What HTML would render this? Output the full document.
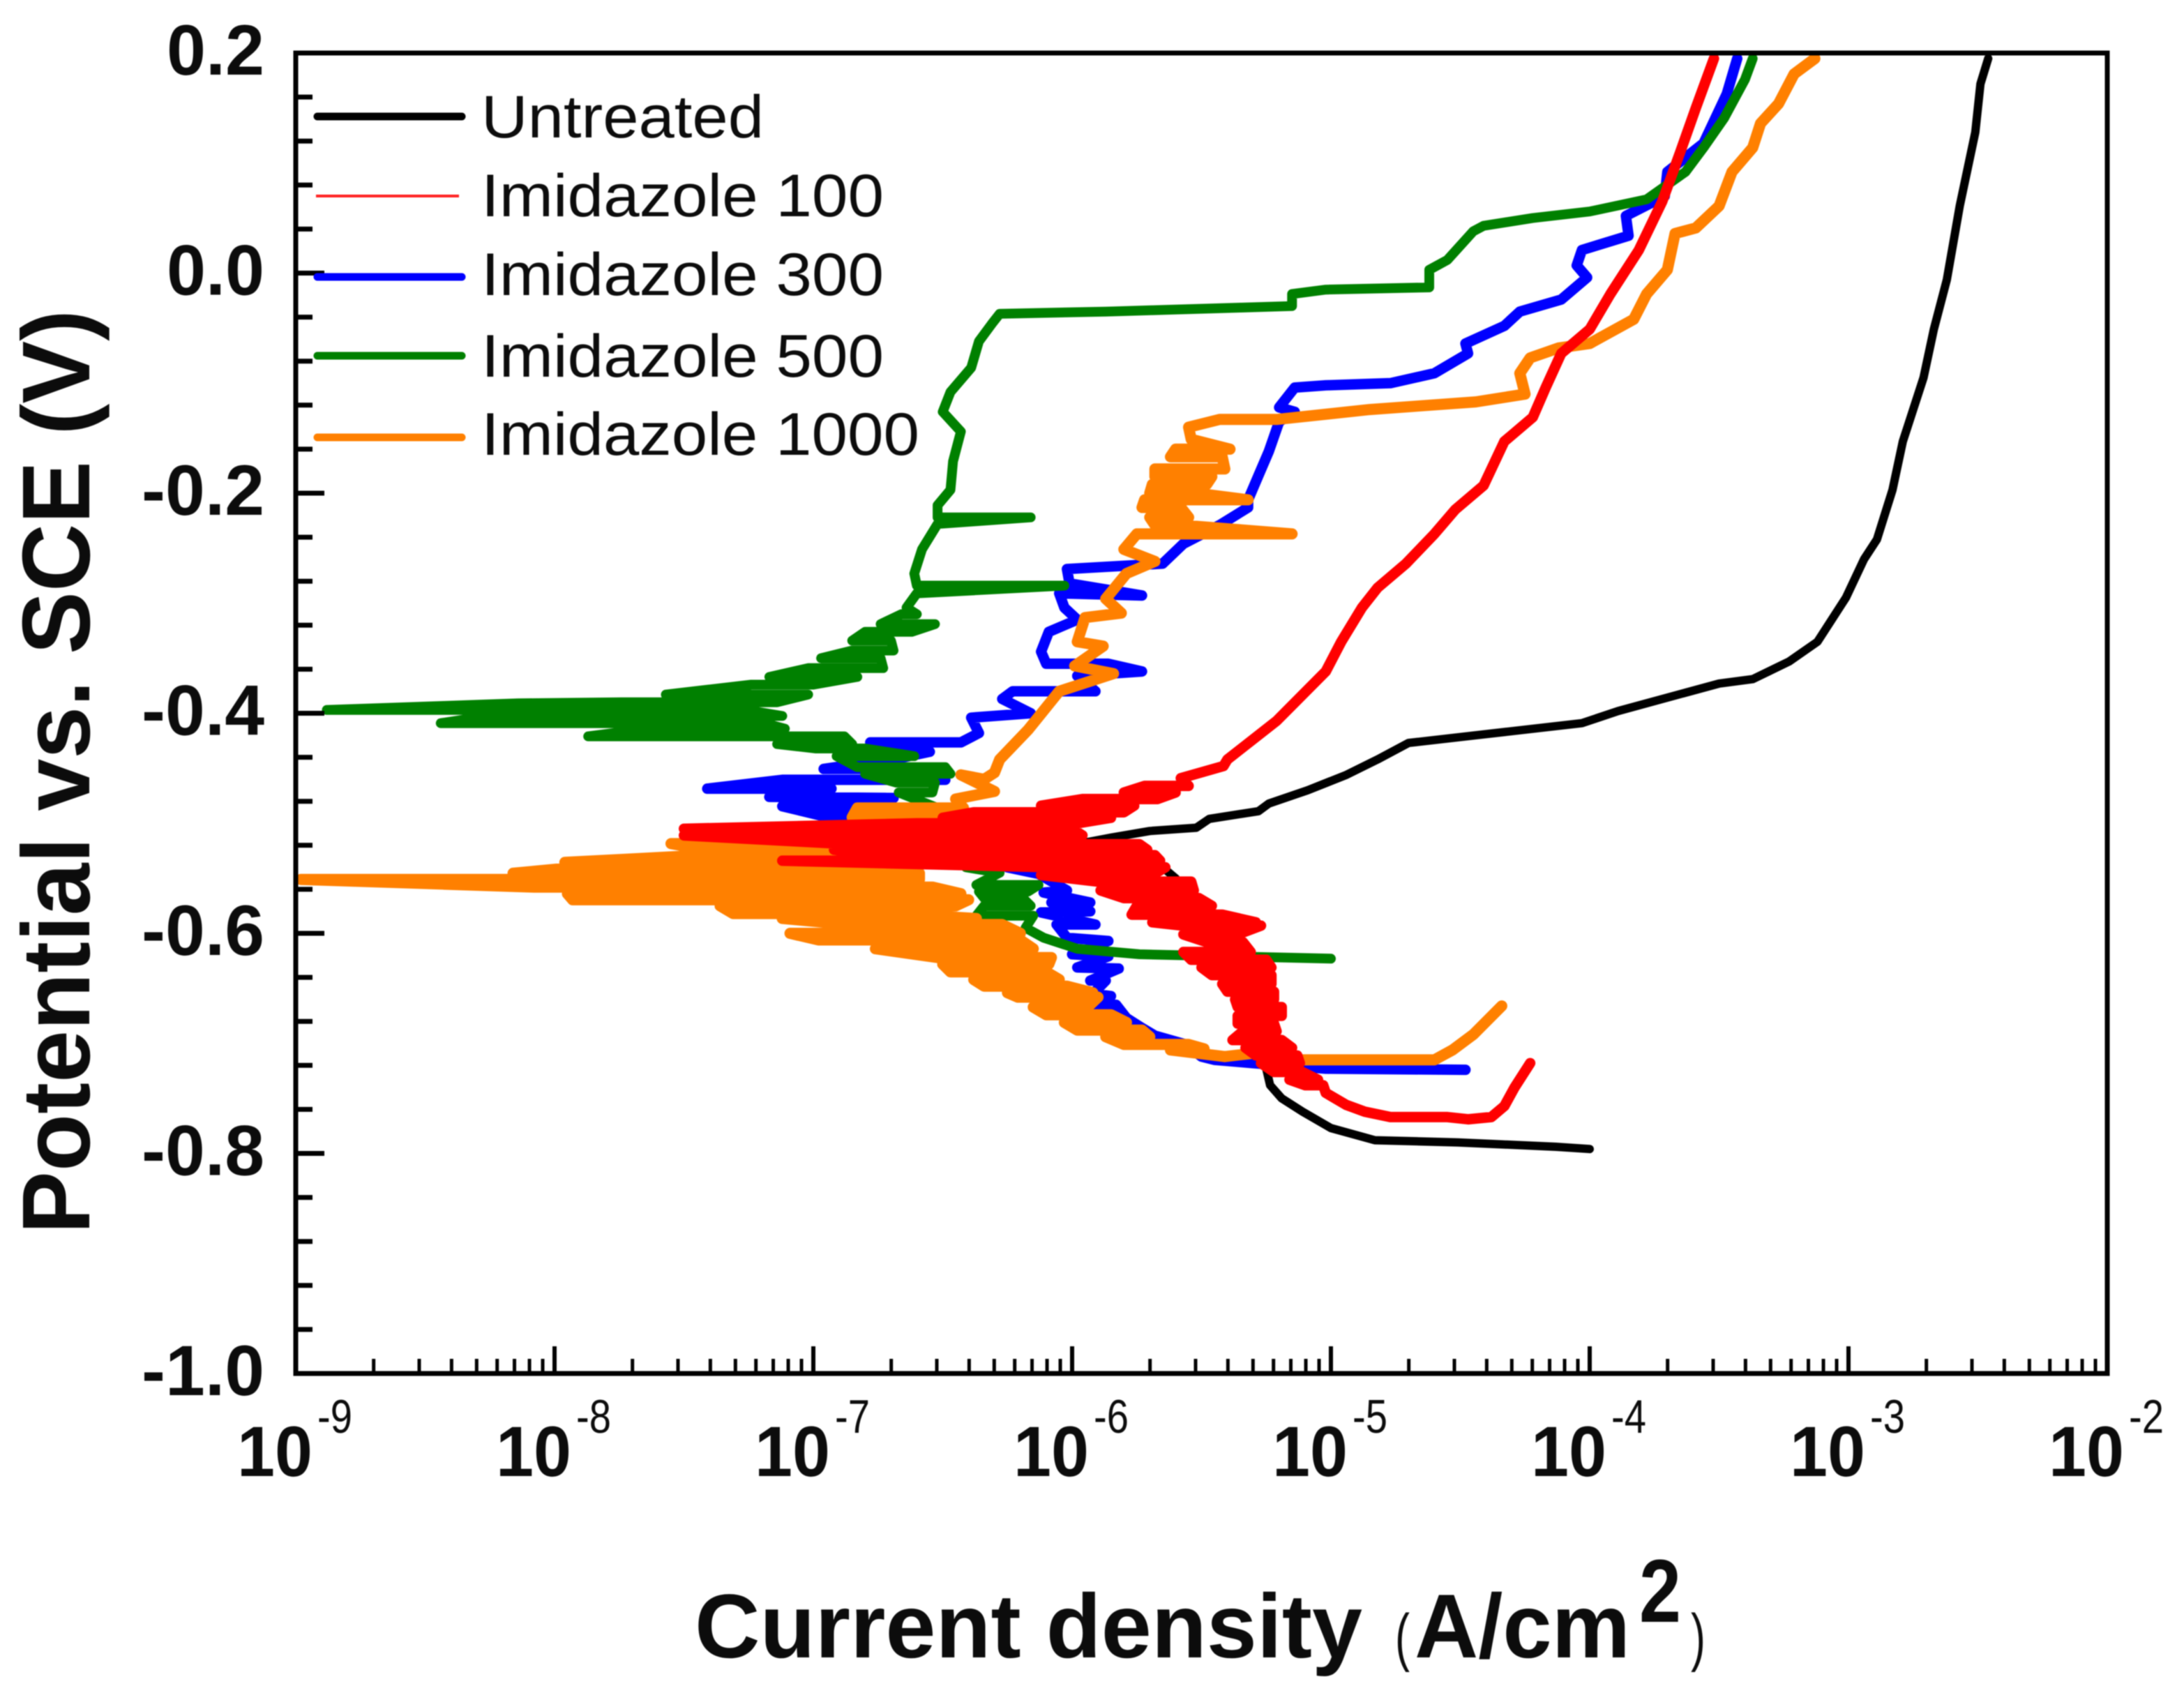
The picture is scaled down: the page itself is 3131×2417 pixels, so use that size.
<!DOCTYPE html>
<html lang="en">
<head>
<meta charset="utf-8">
<title>Potentiodynamic polarization curves</title>
<style>
html,body{margin:0;padding:0;background:#fff;}
svg{display:block;filter:blur(0.9px);}
text{font-family:"Liberation Sans",Arial,sans-serif;fill:#0c0c0c;}
.b{font-weight:bold;}
</style>
</head>
<body>
<svg id="chart" xmlns="http://www.w3.org/2000/svg" width="3131" height="2417" viewBox="0 0 3131 2417">
  <rect x="0" y="0" width="3131" height="2417" fill="#fff"/>
  <g id="series" fill="none" stroke-linejoin="round" stroke-linecap="round">
    <polyline id="s-untreated" stroke="#000000" stroke-width="12"/>
    <polyline id="s-300" stroke="#0000ff" stroke-width="15"/>
    <polyline id="s-500" stroke="#008000" stroke-width="14"/>
    <polyline id="s-1000" stroke="#ff8000" stroke-width="16"/>
    <polyline id="s-100" stroke="#ff0000" stroke-width="15"/>
  </g>
  <g id="x-ticks" stroke="#000"></g>
  <g id="y-ticks" stroke="#000"></g>
  <rect x="424" y="76" width="2597" height="1893" fill="none" stroke="#000" stroke-width="7"/>
  <g id="x-labels"></g>
  <g id="y-labels"></g>

  <text class="b" font-size="138" textLength="1325" lengthAdjust="spacingAndGlyphs" transform="translate(128,1769) rotate(-90)">Potential vs. SCE (V)</text>

  <g>
    <text class="b" x="996" y="2376" font-size="130" textLength="957" lengthAdjust="spacingAndGlyphs">Current density</text>
    <text x="2000" y="2378" font-size="92" textLength="21" lengthAdjust="spacingAndGlyphs">(</text>
    <text class="b" x="2028" y="2376" font-size="130" textLength="309" lengthAdjust="spacingAndGlyphs">A/cm</text>
    <text class="b" x="2350" y="2325" font-size="128" textLength="60" lengthAdjust="spacingAndGlyphs">2</text>
    <text x="2424" y="2378" font-size="92" textLength="21" lengthAdjust="spacingAndGlyphs">)</text>
  </g>

  <g fill="none" stroke-linecap="round">
    <line x1="455" y1="167" x2="662" y2="167" stroke="#000000" stroke-width="11"/>
    <line x1="453" y1="281" x2="658" y2="281" stroke="#ff2020" stroke-width="4" stroke-linecap="butt"/>
    <line x1="455" y1="397" x2="662" y2="397" stroke="#0000ff" stroke-width="11"/>
    <line x1="455" y1="510" x2="662" y2="510" stroke="#008000" stroke-width="11"/>
    <line x1="455" y1="627" x2="662" y2="627" stroke="#ff8000" stroke-width="11"/>
    <text x="690" y="197" font-size="86" textLength="405" lengthAdjust="spacingAndGlyphs" stroke="none">Untreated</text>
    <text x="690" y="310" font-size="86" textLength="577" lengthAdjust="spacingAndGlyphs" stroke="none">Imidazole 100</text>
    <text x="690" y="423" font-size="86" textLength="577" lengthAdjust="spacingAndGlyphs" stroke="none">Imidazole 300</text>
    <text x="690" y="540" font-size="86" textLength="577" lengthAdjust="spacingAndGlyphs" stroke="none">Imidazole 500</text>
    <text x="690" y="652" font-size="86" textLength="628" lengthAdjust="spacingAndGlyphs" stroke="none">Imidazole 1000</text>
  </g>
</svg>
<script>
// Values are [log10(current density), potential in V vs. SCE]
const xDecades = [-9, -8, -7, -6, -5, -4, -3, -2];
const xExponentLabels = ['-9', '-8', '-7', '-6', '-5', '-4', '-3', '-2'];
const yMajorTicks = [0.2, 0, -0.2, -0.4, -0.6, -0.8, -1.0];
const yTickLabels = ['0.2', '0.0', '-0.2', '-0.4', '-0.6', '-0.8', '-1.0'];
const yMinorTicks = [0.16, 0.12, 0.08, 0.04, -0.04, -0.08, -0.12, -0.16, -0.24, -0.28, -0.32, -0.36, -0.44, -0.48, -0.52, -0.56, -0.64, -0.68, -0.72, -0.76, -0.84, -0.88, -0.92, -0.96];
const xMinorMultipliers = [2, 3, 4, 5, 6, 7, 8, 9];

const untreated = [[-2.46,.195],[-2.49,.172],[-2.51,.128],[-2.57,.061],[-2.62,-.006],[-2.67,-.051],[-2.71,-.095],[-2.79,-.153],[-2.83,-.197],[-2.89,-.242],[-2.94,-.260],[-3.01,-.295],[-3.12,-.335],[-3.23,-.353],[-3.37,-.369],[-3.50,-.373],[-3.89,-.398],[-4.03,-.409],[-4.44,-.420],[-4.70,-.427],[-4.82,-.442],[-4.94,-.456],[-5.09,-.470],[-5.24,-.482],[-5.28,-.489],[-5.47,-.496],[-5.52,-.504],[-5.70,-.507],[-5.85,-.513],[-5.94,-.517],[-5.70,-.53],[-5.60,-.55],[-5.55,-.565],[-5.46,-.585],[-5.33,-.670],[-5.35,-.694],[-5.25,-.723],[-5.235,-.738],[-5.19,-.750],[-5.11,-.762],[-5.0,-.777],[-4.83,-.788],[-4.51,-.790],[-4.13,-.794],[-4.0,-.796]];

const imidazole300 = [[-3.43,.195],[-3.47,.163],[-3.56,.118],[-3.70,.092],[-3.71,.07],[-3.86,.052],[-3.85,.034],[-4.03,.021],[-4.05,.007],[-4.01,-.004],[-4.11,-.024],[-4.27,-.035],[-4.33,-.048],[-4.48,-.064],[-4.47,-.073],[-4.60,-.091],[-4.77,-.1],[-5.02,-.102],[-5.14,-.104],[-5.2,-.122],[-5.14,-.126],[-5.2,-.135],[-5.24,-.162],[-5.28,-.184],[-5.32,-.206],[-5.32,-.213],[-5.43,-.229],[-5.57,-.246],[-5.65,-.264],[-6.02,-.269],[-6.01,-.282],[-5.73,-.293],[-6.05,-.291],[-6.03,-.304],[-5.98,-.315],[-6.09,-.326],[-6.12,-.344],[-6.10,-.355],[-5.86,-.355],[-5.73,-.362],[-5.98,-.366],[-5.91,-.380],[-6.23,-.380],[-6.27,-.387],[-6.16,-.400],[-6.39,-.404],[-6.36,-.418],[-6.43,-.4265],[-6.78,-.4265],[-6.55,-.435],[-6.65,-.44],[-6.96,-.4506],[-6.75,-.4506],[-6.49,-.4605],[-7.12,-.4605],[-7.41,-.4685],[-6.93,-.4685],[-7.17,-.476],[-6.69,-.477],[-6.85,-.4845],[-7.12,-.4845],[-6.97,-.493],[-6.83,-.493],[-6.5,-.51],[-6.25,-.54],[-6.13,-.546],[-6.02,-.561],[-6.11,-.563],[-5.93,-.572],[-6.08,-.572],[-5.93,-.580],[-6.12,-.581],[-5.91,-.592],[-6.06,-.592],[-6.02,-.604],[-5.86,-.607],[-6.0,-.619],[-5.86,-.621],[-5.98,-.631],[-5.82,-.632],[-5.93,-.643],[-5.87,-.643],[-5.92,-.655],[-5.85,-.657],[-5.94,-.665],[-5.83,-.665],[-5.79,-.677],[-5.73,-.686],[-5.68,-.693],[-5.56,-.701],[-5.50,-.712],[-5.45,-.715],[-5.30,-.718],[-5.02,-.723],[-4.48,-.724]];

const imidazole500 = [[-3.37,.195],[-3.40,.176],[-3.48,.141],[-3.56,.114],[-3.63,.092],[-3.78,.067],[-4.0,.056],[-4.22,.05],[-4.41,.043],[-4.45,.038],[-4.55,.012],[-4.62,.003],[-4.62,-.013],[-5.02,-.015],[-5.15,-.019],[-5.15,-.03],[-5.87,-.035],[-6.28,-.037],[-6.31,-.046],[-6.36,-.062],[-6.39,-.086],[-6.47,-.108],[-6.50,-.126],[-6.43,-.144],[-6.46,-.171],[-6.47,-.197],[-6.52,-.211],[-6.52,-.222],[-6.16,-.222],[-6.52,-.228],[-6.58,-.251],[-6.61,-.273],[-6.60,-.284],[-6.03,-.284],[-6.60,-.291],[-6.64,-.304],[-6.60,-.310],[-6.66,-.310],[-6.74,-.319],[-6.53,-.319],[-6.62,-.326],[-6.80,-.326],[-6.85,-.334],[-6.70,-.334],[-6.69,-.343],[-6.85,-.343],[-6.97,-.350],[-6.74,-.350],[-6.73,-.359],[-7.02,-.359],[-7.17,-.367],[-6.83,-.367],[-7.0,-.374],[-7.24,-.374],[-7.57,-.383],[-7.02,-.383],[-7.14,-.390],[-7.74,-.390],[-8.14,-.391],[-8.88,-.397],[-7.26,-.397],[-7.12,-.4025],[-8.26,-.4025],[-8.44,-.409],[-7.19,-.409],[-7.11,-.414],[-7.64,-.414],[-7.87,-.421],[-6.88,-.421],[-6.85,-.428],[-7.14,-.428],[-6.99,-.432],[-6.80,-.432],[-6.61,-.439],[-6.91,-.439],[-6.83,-.449],[-6.49,-.449],[-6.47,-.455],[-6.80,-.455],[-6.68,-.463],[-6.53,-.463],[-6.54,-.472],[-6.67,-.472],[-6.43,-.4945],[-6.41,-.540],[-6.28,-.545],[-6.37,-.556],[-6.13,-.556],[-6.17,-.562],[-6.36,-.562],[-6.34,-.568],[-6.19,-.568],[-6.16,-.575],[-6.34,-.575],[-6.37,-.584],[-6.15,-.584],[-6.18,-.595],[-6.11,-.604],[-5.98,-.614],[-5.74,-.619],[-5.0,-.623]];

const imidazole1000 = [[-3.13,.195],[-3.21,.181],[-3.27,.154],[-3.34,.136],[-3.37,.114],[-3.45,.092],[-3.50,.061],[-3.59,.041],[-3.67,.036],[-3.70,.003],[-3.78,-.019],[-3.83,-.042],[-4.0,-.064],[-4.12,-.068],[-4.23,-.077],[-4.27,-.091],[-4.25,-.11],[-4.44,-.117],[-4.85,-.124],[-5.21,-.133],[-5.43,-.133],[-5.55,-.140],[-5.54,-.151],[-5.39,-.16],[-5.60,-.16],[-5.62,-.167],[-5.42,-.167],[-5.41,-.178],[-5.68,-.178],[-5.68,-.185],[-5.46,-.185],[-5.48,-.192],[-5.69,-.192],[-5.70,-.200],[-5.52,-.200],[-5.32,-.206],[-5.72,-.206],[-5.73,-.213],[-5.58,-.213],[-5.55,-.222],[-5.70,-.222],[-5.68,-.229],[-5.58,-.229],[-5.15,-.237],[-5.75,-.237],[-5.80,-.251],[-5.68,-.262],[-5.79,-.273],[-5.87,-.296],[-5.81,-.309],[-5.95,-.313],[-5.98,-.335],[-5.88,-.339],[-5.99,-.357],[-5.84,-.364],[-6.05,-.380],[-6.17,-.415],[-6.28,-.442],[-6.30,-.454],[-6.34,-.460],[-6.43,-.456],[-6.30,-.471],[-6.45,-.478],[-6.42,-.486],[-6.83,-.486],[-6.85,-.4945],[-6.43,-.4945],[-6.86,-.5185],[-7.55,-.5185],[-7.38,-.5256],[-6.92,-.5256],[-7.38,-.530],[-7.51,-.530],[-7.96,-.5355],[-7.12,-.5355],[-6.78,-.541],[-7.96,-.541],[-8.16,-.5454],[-6.59,-.5454],[-6.59,-.551],[-8.98,-.551],[-8.08,-.558],[-6.54,-.558],[-6.43,-.564],[-7.95,-.564],[-7.93,-.5695],[-6.40,-.5695],[-6.45,-.575],[-7.36,-.575],[-7.31,-.582],[-6.69,-.582],[-6.37,-.5865],[-7.12,-.5865],[-6.86,-.592],[-6.27,-.592],[-6.20,-.600],[-7.09,-.600],[-6.98,-.606],[-6.20,-.606],[-6.15,-.614],[-6.76,-.614],[-6.52,-.622],[-6.08,-.622],[-6.09,-.628],[-6.50,-.628],[-6.47,-.635],[-6.10,-.635],[-6.05,-.642],[-6.38,-.642],[-6.34,-.648],[-6.02,-.648],[-5.92,-.654],[-6.25,-.654],[-6.21,-.658],[-5.90,-.658],[-5.94,-.667],[-6.15,-.667],[-6.10,-.674],[-5.85,-.674],[-5.79,-.681],[-6.03,-.681],[-5.98,-.688],[-5.73,-.688],[-5.70,-.694],[-5.87,-.694],[-5.80,-.701],[-5.55,-.701],[-5.49,-.705],[-5.62,-.706],[-5.41,-.712],[-5.30,-.709],[-5.13,-.715],[-4.60,-.715],[-4.53,-.706],[-4.45,-.692],[-4.34,-.666]];

const imidazole100 = [[-3.52,.195],[-3.59,.150],[-3.65,.110],[-3.72,.065],[-3.81,.021],[-3.92,-.019],[-4.0,-.051],[-4.11,-.073],[-4.17,-.104],[-4.22,-.131],[-4.33,-.153],[-4.41,-.193],[-4.52,-.215],[-4.60,-.237],[-4.71,-.264],[-4.82,-.286],[-4.88,-.304],[-4.96,-.335],[-5.02,-.362],[-5.21,-.407],[-5.40,-.442],[-5.415,-.448],[-5.58,-.459],[-5.55,-.466],[-5.72,-.466],[-5.80,-.472],[-5.60,-.472],[-5.67,-.478],[-5.96,-.478],[-6.12,-.484],[-5.76,-.484],[-5.80,-.490],[-6.38,-.490],[-6.50,-.495],[-5.85,-.495],[-5.98,-.500],[-6.6,-.500],[-7.50,-.505],[-6.0,-.505],[-5.96,-.511],[-7.50,-.511],[-6.86,-.519],[-5.74,-.519],[-5.71,-.524],[-6.92,-.524],[-6.78,-.529],[-5.68,-.529],[-5.66,-.534],[-7.12,-.534],[-6.08,-.540],[-5.64,-.540],[-5.69,-.547],[-6.12,-.547],[-5.90,-.553],[-5.54,-.553],[-5.53,-.561],[-5.89,-.561],[-5.80,-.568],[-5.51,-.568],[-5.46,-.575],[-5.75,-.575],[-5.77,-.583],[-5.42,-.583],[-5.29,-.590],[-5.69,-.590],[-5.57,-.593],[-5.27,-.593],[-5.36,-.601],[-5.57,-.601],[-5.48,-.608],[-5.34,-.608],[-5.31,-.617],[-5.57,-.617],[-5.54,-.624],[-5.25,-.624],[-5.23,-.631],[-5.50,-.631],[-5.46,-.638],[-5.23,-.638],[-5.23,-.646],[-5.42,-.646],[-5.40,-.653],[-5.22,-.653],[-5.22,-.660],[-5.37,-.660],[-5.36,-.667],[-5.19,-.667],[-5.19,-.675],[-5.36,-.675],[-5.36,-.682],[-5.22,-.682],[-5.21,-.689],[-5.34,-.689],[-5.38,-.697],[-5.19,-.697],[-5.15,-.704],[-5.33,-.704],[-5.29,-.711],[-5.13,-.711],[-5.12,-.718],[-5.27,-.718],[-5.22,-.726],[-5.11,-.726],[-5.05,-.733],[-5.16,-.733],[-5.10,-.738],[-5.03,-.738],[-5.02,-.745],[-4.94,-.756],[-4.87,-.762],[-4.77,-.767],[-4.55,-.767],[-4.47,-.769],[-4.38,-.767],[-4.33,-.757],[-4.29,-.740],[-4.23,-.718]];

const NS = 'http://www.w3.org/2000/svg';
const plotLeft = 424, plotRight = 3021, plotTop = 76, plotBottom = 1969;
function xScale(logI) { return plotLeft + (logI + 9) / 7 * (plotRight - plotLeft); }
function yScale(e) { return plotTop + (0.2 - e) / 1.2 * (plotBottom - plotTop); }
function setPoints(id, data) {
  document.getElementById(id).setAttribute('points', data.map(function (p) {
    return xScale(p[0]).toFixed(1) + ',' + yScale(p[1]).toFixed(1);
  }).join(' '));
}
setPoints('s-untreated', untreated);
setPoints('s-300', imidazole300);
setPoints('s-500', imidazole500);
setPoints('s-1000', imidazole1000);
setPoints('s-100', imidazole100);

const xTicks = document.getElementById('x-ticks');
const yTicks = document.getElementById('y-ticks');
const xLabels = document.getElementById('x-labels');
const yLabels = document.getElementById('y-labels');

function tickLine(parent, x1, y1, x2, y2, w) {
  const l = document.createElementNS(NS, 'line');
  l.setAttribute('x1', x1);
  l.setAttribute('y1', y1);
  l.setAttribute('x2', x2);
  l.setAttribute('y2', y2);
  l.setAttribute('stroke-width', w);
  parent.appendChild(l);
  return l;
}

xDecades.forEach(function (d, i) {
  const px = xScale(d);
  const major = tickLine(xTicks, px, plotBottom, px, plotBottom - 39, 6);
  
  
  if (i < xDecades.length - 1) {
    xMinorMultipliers.forEach(function (m) {
      const mx = xScale(d + Math.log10(m));
      const minor = tickLine(xTicks, mx, plotBottom, mx, plotBottom - 21, 5);
      
      
    });
  }
  const base = document.createElementNS(NS, 'text');
  
  
  base.setAttribute('class', 'b');
  base.setAttribute('x', px - 84);
  base.setAttribute('y', 2116);
  base.setAttribute('font-size', '102');
  base.setAttribute('textLength', '108');
  base.setAttribute('lengthAdjust', 'spacingAndGlyphs');
  base.textContent = '10';
  xLabels.appendChild(base);
  const exp = document.createElementNS(NS, 'text');
  
  
  exp.setAttribute('x', px + 31);
  exp.setAttribute('y', 2054);
  exp.setAttribute('font-size', '68');
  exp.setAttribute('textLength', '50');
  exp.setAttribute('lengthAdjust', 'spacingAndGlyphs');
  exp.textContent = xExponentLabels[i];
  xLabels.appendChild(exp);
});

yMajorTicks.forEach(function (v, i) {
  const py = yScale(v);
  const major = tickLine(yTicks, plotLeft, py, plotLeft + 41, py, 7);
  
  
  const t = document.createElementNS(NS, 'text');
  
  
  t.setAttribute('class', 'b');
  t.setAttribute('x', 379);
  t.setAttribute('y', py + 31);
  t.setAttribute('font-size', '102');
  t.setAttribute('text-anchor', 'end');
  t.setAttribute('textLength', yTickLabels[i].length === 3 ? '140' : '176');
  t.setAttribute('lengthAdjust', 'spacingAndGlyphs');
  t.textContent = yTickLabels[i];
  yLabels.appendChild(t);
});
yMinorTicks.forEach(function (v) {
  const py = yScale(v);
  const minor = tickLine(yTicks, plotLeft, py, plotLeft + 24, py, 7);
  
  
});
</script>
</body>
</html>
